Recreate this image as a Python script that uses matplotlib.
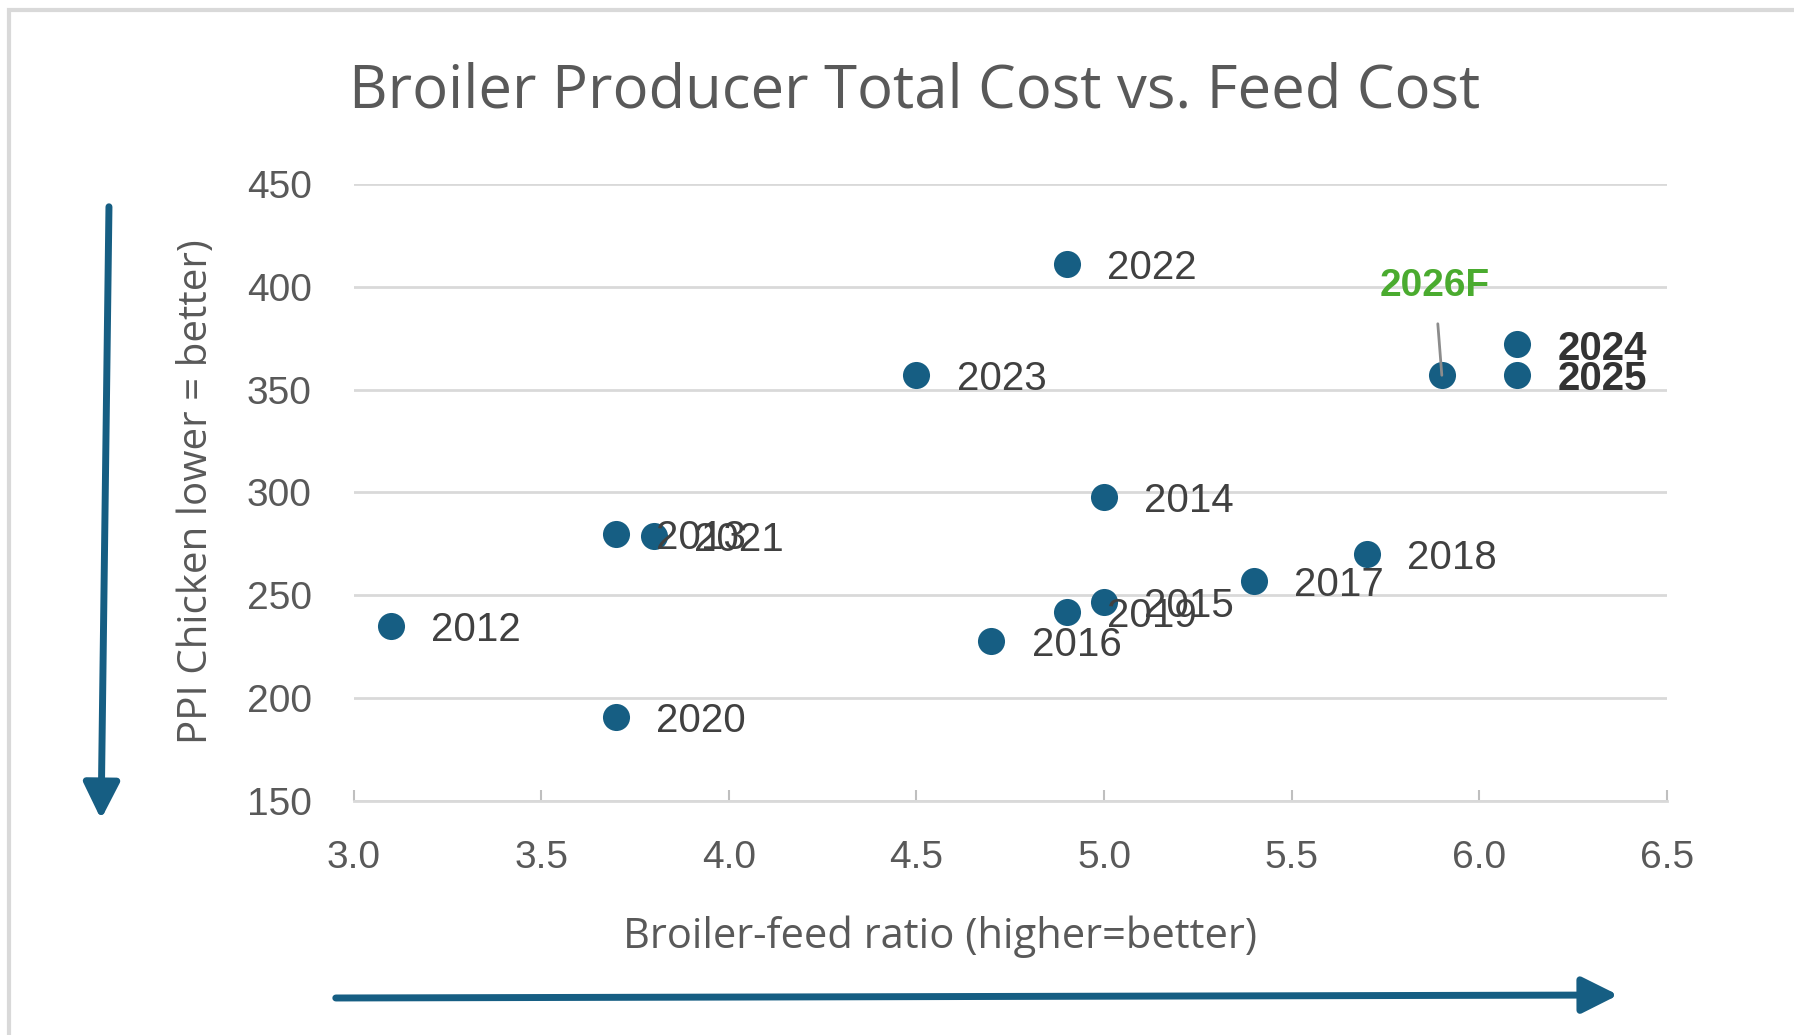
import matplotlib
matplotlib.use("Agg")
import matplotlib.pyplot as plt
from matplotlib.patches import Rectangle, FancyArrowPatch

# broiler-feed ratio vs PPI chicken
years = ["2012", "2013", "2014", "2015", "2016", "2017", "2018", "2019",
         "2020", "2021", "2022", "2023", "2024", "2025"]
feed_ratio = [3.1, 3.7, 5.0, 5.0, 4.7, 5.4, 5.7, 4.9, 3.7, 3.8, 4.9, 4.5, 6.1, 6.1]
ppi_chicken = [235, 280, 298, 247, 228, 257, 270, 242, 191, 279, 411, 357, 372, 357]

forecast_label = "2026F"
forecast_ratio = 5.9
forecast_ppi = 357

bold_years = ["2024", "2025"]

xticks = [3.0, 3.5, 4.0, 4.5, 5.0, 5.5, 6.0, 6.5]
yticks = [150, 200, 250, 300, 350, 400, 450]

dot = "#165e83"
grey = "#595959"
grid = "#d9d9d9"

W, H, DPI = 1794, 1035, 100
fig = plt.figure(figsize=(W / DPI, H / DPI), dpi=DPI)
ax = fig.add_axes([353.5 / W, 1 - 801 / H, (1667 - 353.5) / W, (801 - 184) / H])

ax.scatter(feed_ratio + [forecast_ratio], ppi_chicken + [forecast_ppi],
           s=380, color=dot, zorder=3, linewidths=0)

for yr, x, y in zip(years, feed_ratio, ppi_chicken):
    bold = yr in bold_years
    ax.annotate(yr, (x, y), xytext=(29, -3), textcoords="offset points",
                ha="left", va="center", fontsize=29,
                fontweight="bold" if bold else "normal",
                color="#333333" if bold else "#404040",
                family="Liberation Sans", zorder=4)

ax.annotate(forecast_label, (forecast_ratio, forecast_ppi), xytext=(-5, 64),
            textcoords="offset points", ha="center", va="center",
            fontsize=28, fontweight="bold", color="#4aab2f",
            family="Liberation Sans",
            arrowprops=dict(arrowstyle="-", color="#8c8c8c", lw=2,
                            shrinkA=12, shrinkB=0))

ax.set_xlim(3.0, 6.5)
ax.set_ylim(150, 450)
ax.set_xticks(xticks)
ax.set_yticks(yticks)
ax.set_xticklabels([f"{t:.1f}" for t in xticks])
ax.yaxis.grid(True, color=grid, lw=2)
ax.set_axisbelow(True)
for side in ["top", "right", "left"]:
    ax.spines[side].set_visible(False)
ax.spines["bottom"].set_color(grid)
ax.spines["bottom"].set_linewidth(2)
ax.tick_params(axis="x", direction="in", length=8, width=1.5, color="#bfbfbf",
               pad=28, labelsize=28, labelcolor=grey)
ax.tick_params(axis="y", length=0, pad=30, labelsize=28, labelcolor=grey)
for lbl in ax.get_xticklabels() + ax.get_yticklabels():
    lbl.set_family("Liberation Sans")

fig.text(915 / W, 1 - 92 / H, "Broiler Producer Total Cost vs. Feed Cost",
         ha="center", va="center", fontsize=43, color=grey, family="Open Sans")
fig.text(940 / W, 1 - 937 / H, "Broiler-feed ratio (higher=better)",
         ha="center", va="center", fontsize=30, color=grey, family="Open Sans")
fig.text(197 / W, 1 - 492 / H, "PPI Chicken lower = better)", rotation=90,
         ha="center", va="center", fontsize=29, color=grey, family="Open Sans")

# direction arrows
arrow = dict(arrowstyle="-|>,head_length=1.1,head_width=0.55", color=dot, lw=5)
fig.add_artist(FancyArrowPatch(
    (109 / W, 1 - 204 / H), (101 / W, 1 - 822 / H),
    transform=fig.transFigure, mutation_scale=20, **arrow))
fig.add_artist(FancyArrowPatch(
    (333 / W, 1 - 998 / H), (1621 / W, 1 - 995 / H),
    transform=fig.transFigure, mutation_scale=20, **arrow))

# outer chart frame
fig.add_artist(Rectangle((9 / W, 0 - 0.05), 1.2, 1 - 10 / H + 0.05,
                         transform=fig.transFigure, fill=False,
                         edgecolor=grid, lw=3))

fig.savefig("out.png", dpi=DPI)
